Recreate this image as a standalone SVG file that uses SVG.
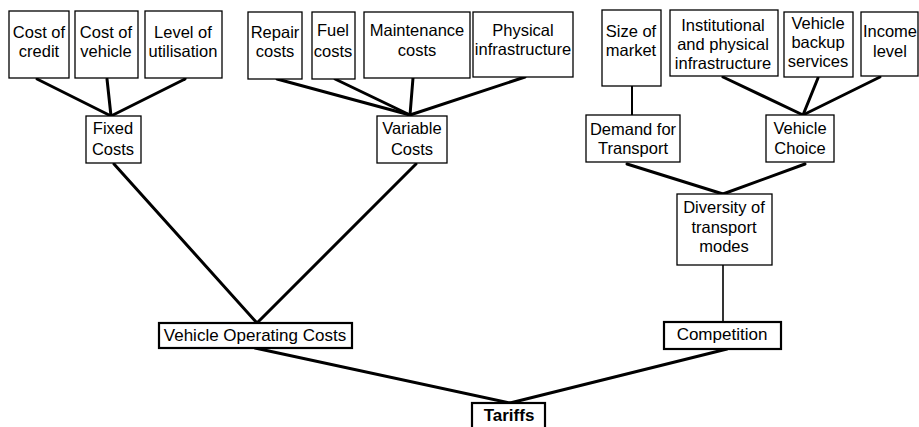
<svg xmlns="http://www.w3.org/2000/svg" width="919" height="427" viewBox="0 0 919 427">
<style>
.b{fill:#fff;stroke:#000;stroke-width:1.3}
.bb{fill:#fff;stroke:#000;stroke-width:2.2}
text{font-family:"Liberation Sans",Arial,sans-serif;font-size:16.5px;fill:#000;text-anchor:middle}
.k{font-size:17px}
.t{font-weight:bold;font-size:17px}
.c line{stroke:#000;stroke-width:3;stroke-linecap:round}
.c line.n{stroke-width:2}
.c line.m{stroke-width:1.6}
</style>
<rect width="919" height="427" fill="#fff"/>
<g class="c" id="connectors">
<line x1="37" y1="79" x2="111" y2="116"/>
<line x1="107" y1="79" x2="111" y2="116"/>
<line x1="185" y1="79" x2="111" y2="116"/>
<line x1="277" y1="79" x2="410" y2="115"/>
<line x1="335" y1="79" x2="410" y2="115"/>
<line x1="413" y1="78" x2="410" y2="115"/>
<line x1="525" y1="77" x2="410" y2="115"/>
<line class="n" x1="632" y1="86" x2="632" y2="115"/>
<line x1="723" y1="77" x2="803" y2="115"/>
<line x1="818" y1="78" x2="803" y2="115"/>
<line x1="880" y1="77" x2="803" y2="115"/>
<line x1="114" y1="164" x2="257" y2="323"/>
<line x1="416" y1="164" x2="257" y2="323"/>
<line x1="627" y1="164" x2="723" y2="194"/>
<line x1="805" y1="164" x2="723" y2="194"/>
<line class="m" x1="723" y1="265" x2="723" y2="322"/>
<line x1="255" y1="348" x2="510" y2="403"/>
<line x1="727" y1="349" x2="510" y2="403"/>
</g>
<g id="cost_credit"><rect class="b" x="9" y="11" width="60" height="67"/><text x="39" y="38">Cost of</text><text x="39" y="57">credit</text></g>
<g id="cost_vehicle"><rect class="b" x="75" y="11" width="63" height="67"/><text x="106" y="38">Cost of</text><text x="106" y="57">vehicle</text></g>
<g id="level_utilisation"><rect class="b" x="145" y="11" width="77" height="67"/><text x="183" y="38">Level of</text><text x="183" y="57">utilisation</text></g>
<g id="repair_costs"><rect class="b" x="248" y="12" width="54" height="67"/><text x="275" y="38">Repair</text><text x="275" y="57">costs</text></g>
<g id="fuel_costs"><rect class="b" x="312" y="12" width="43" height="67"/><text x="333" y="36">Fuel</text><text x="333" y="57">costs</text></g>
<g id="maintenance_costs"><rect class="b" x="364" y="12" width="106" height="66"/><text x="417" y="36">Maintenance</text><text x="417" y="56">costs</text></g>
<g id="physical_infrastructure"><rect class="b" x="473" y="12" width="100" height="65"/><text x="523" y="36">Physical</text><text x="523" y="55">infrastructure</text></g>
<g id="size_market"><rect class="b" x="602" y="10" width="59" height="76"/><text x="631" y="37">Size of</text><text x="631" y="56">market</text></g>
<g id="institutional"><rect class="b" x="670" y="10" width="108" height="66"/><text x="723" y="31">Institutional</text><text x="723" y="50">and physical</text><text x="723" y="69">infrastructure</text></g>
<g id="vehicle_backup"><rect class="b" x="784" y="12" width="69" height="65"/><text x="818" y="29">Vehicle</text><text x="818" y="48">backup</text><text x="818" y="67">services</text></g>
<g id="income_level"><rect class="b" x="861" y="12" width="57" height="64"/><text x="890" y="37">Income</text><text x="890" y="57">level</text></g>
<g id="fixed_costs"><rect class="b" x="86" y="116" width="55" height="47"/><text x="113" y="134">Fixed</text><text x="113" y="155">Costs</text></g>
<g id="variable_costs"><rect class="b" x="377" y="116" width="70" height="47"/><text x="412" y="134">Variable</text><text x="412" y="155">Costs</text></g>
<g id="demand_transport"><rect class="b" x="586" y="115" width="94" height="47"/><text x="633" y="135">Demand for</text><text x="633" y="154">Transport</text></g>
<g id="vehicle_choice"><rect class="b" x="766" y="115" width="68" height="47"/><text x="800" y="134">Vehicle</text><text x="800" y="154">Choice</text></g>
<g id="diversity"><rect class="b" x="677" y="194" width="95" height="71"/><text x="724" y="213">Diversity of</text><text x="724" y="233">transport</text><text x="724" y="252">modes</text></g>
<g id="vehicle_operating_costs"><rect class="bb" x="159" y="323" width="193" height="25"/><text class="k" x="255" y="341">Vehicle Operating Costs</text></g>
<g id="competition"><rect class="bb" x="664" y="322" width="117" height="27"/><text class="k" x="722" y="340">Competition</text></g>
<g id="tariffs"><rect class="bb" x="472" y="403" width="73" height="30"/><text class="t" x="509" y="421">Tariffs</text></g>
</svg>
